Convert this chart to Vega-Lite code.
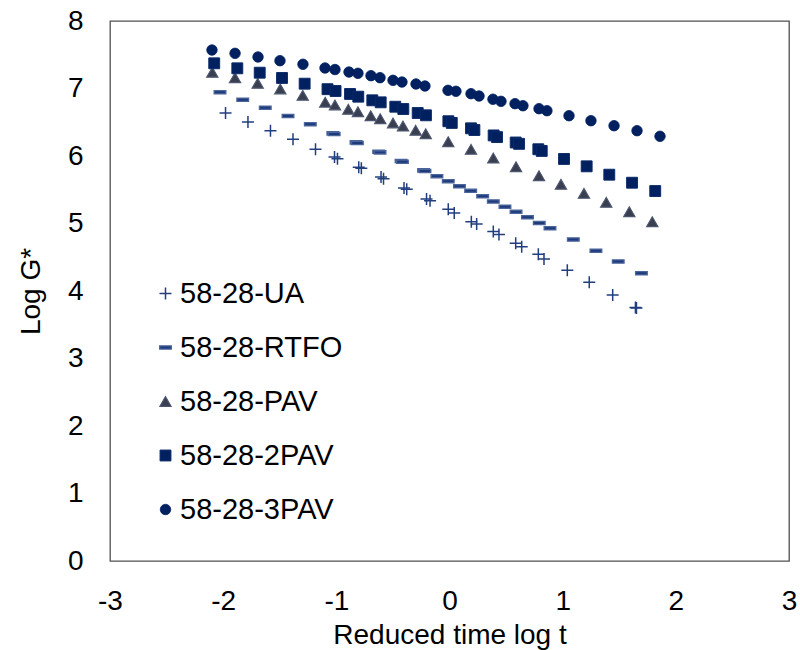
{
  "$schema": "https://vega.github.io/schema/vega-lite/v6.json",
  "autosize": {"type": "none"},
  "padding": {"left": 110, "top": 21, "right": 11, "bottom": 89},
  "width": 679,
  "height": 540,
  "background": "white",
  "config": {
    "font": "Liberation Sans",
    "view": {"stroke": "#505050", "strokeWidth": 1.3},
    "axis": {"grid": false, "domain": false, "ticks": false, "tickSize": 0, "labelFont": "Liberation Sans", "labelFontSize": 28, "labelColor": "#000000", "titleFont": "Liberation Sans", "titleFontSize": 28, "titleFontWeight": "normal", "titleColor": "#000000", "labelFlush": false, "labelOverlap": false, "labelBound": false},
    "legend": {"labelFont": "Liberation Sans", "labelFontSize": 29, "labelColor": "#000000", "symbolSize": 60, "rowPadding": 24, "labelOffset": 0, "padding": 0, "symbolStrokeWidth": 1.2, "labelLimit": 400}
  },
  "data": {"values": [
    {"s": "58-28-UA", "x": -1.979, "y": 6.637},
    {"s": "58-28-UA", "x": -1.781, "y": 6.504},
    {"s": "58-28-UA", "x": -1.582, "y": 6.375},
    {"s": "58-28-UA", "x": -1.383, "y": 6.247},
    {"s": "58-28-UA", "x": -1.184, "y": 6.099},
    {"s": "58-28-UA", "x": -1.016, "y": 5.985},
    {"s": "58-28-UA", "x": -0.99, "y": 5.96},
    {"s": "58-28-UA", "x": -0.802, "y": 5.833},
    {"s": "58-28-UA", "x": -0.779, "y": 5.818},
    {"s": "58-28-UA", "x": -0.605, "y": 5.689},
    {"s": "58-28-UA", "x": -0.583, "y": 5.664},
    {"s": "58-28-UA", "x": -0.402, "y": 5.526},
    {"s": "58-28-UA", "x": -0.378, "y": 5.507},
    {"s": "58-28-UA", "x": -0.203, "y": 5.363},
    {"s": "58-28-UA", "x": -0.172, "y": 5.338},
    {"s": "58-28-UA", "x": -0.011, "y": 5.21},
    {"s": "58-28-UA", "x": 0.042, "y": 5.156},
    {"s": "58-28-UA", "x": 0.193, "y": 5.027},
    {"s": "58-28-UA", "x": 0.24, "y": 4.993},
    {"s": "58-28-UA", "x": 0.387, "y": 4.881},
    {"s": "58-28-UA", "x": 0.437, "y": 4.837},
    {"s": "58-28-UA", "x": 0.585, "y": 4.707},
    {"s": "58-28-UA", "x": 0.638, "y": 4.656},
    {"s": "58-28-UA", "x": 0.785, "y": 4.544},
    {"s": "58-28-UA", "x": 0.835, "y": 4.474},
    {"s": "58-28-UA", "x": 1.041, "y": 4.307},
    {"s": "58-28-UA", "x": 1.235, "y": 4.129},
    {"s": "58-28-UA", "x": 1.442, "y": 3.941},
    {"s": "58-28-UA", "x": 1.643, "y": 3.756},
    {"s": "58-28-UA", "x": 1.652, "y": 3.748},
    {"s": "58-28-RTFO", "x": -2.028, "y": 6.944},
    {"s": "58-28-RTFO", "x": -1.827, "y": 6.834},
    {"s": "58-28-RTFO", "x": -1.628, "y": 6.716},
    {"s": "58-28-RTFO", "x": -1.427, "y": 6.593},
    {"s": "58-28-RTFO", "x": -1.23, "y": 6.47},
    {"s": "58-28-RTFO", "x": -1.031, "y": 6.335},
    {"s": "58-28-RTFO", "x": -1.019, "y": 6.325},
    {"s": "58-28-RTFO", "x": -0.826, "y": 6.202},
    {"s": "58-28-RTFO", "x": -0.814, "y": 6.192},
    {"s": "58-28-RTFO", "x": -0.626, "y": 6.064},
    {"s": "58-28-RTFO", "x": -0.614, "y": 6.054},
    {"s": "58-28-RTFO", "x": -0.428, "y": 5.926},
    {"s": "58-28-RTFO", "x": -0.416, "y": 5.916},
    {"s": "58-28-RTFO", "x": -0.229, "y": 5.787},
    {"s": "58-28-RTFO", "x": -0.217, "y": 5.777},
    {"s": "58-28-RTFO", "x": -0.111, "y": 5.701},
    {"s": "58-28-RTFO", "x": -0.011, "y": 5.627},
    {"s": "58-28-RTFO", "x": 0.088, "y": 5.551},
    {"s": "58-28-RTFO", "x": 0.187, "y": 5.484},
    {"s": "58-28-RTFO", "x": 0.293, "y": 5.403},
    {"s": "58-28-RTFO", "x": 0.387, "y": 5.326},
    {"s": "58-28-RTFO", "x": 0.49, "y": 5.249},
    {"s": "58-28-RTFO", "x": 0.588, "y": 5.173},
    {"s": "58-28-RTFO", "x": 0.689, "y": 5.092},
    {"s": "58-28-RTFO", "x": 0.793, "y": 5.007},
    {"s": "58-28-RTFO", "x": 0.888, "y": 4.929},
    {"s": "58-28-RTFO", "x": 1.094, "y": 4.763},
    {"s": "58-28-RTFO", "x": 1.294, "y": 4.597},
    {"s": "58-28-RTFO", "x": 1.491, "y": 4.437},
    {"s": "58-28-RTFO", "x": 1.696, "y": 4.262},
    {"s": "58-28-PAV", "x": -2.096, "y": 7.24},
    {"s": "58-28-PAV", "x": -1.895, "y": 7.16},
    {"s": "58-28-PAV", "x": -1.695, "y": 7.077},
    {"s": "58-28-PAV", "x": -1.495, "y": 6.993},
    {"s": "58-28-PAV", "x": -1.297, "y": 6.899},
    {"s": "58-28-PAV", "x": -1.098, "y": 6.797},
    {"s": "58-28-PAV", "x": -1.012, "y": 6.756},
    {"s": "58-28-PAV", "x": -0.894, "y": 6.692},
    {"s": "58-28-PAV", "x": -0.809, "y": 6.656},
    {"s": "58-28-PAV", "x": -0.696, "y": 6.597},
    {"s": "58-28-PAV", "x": -0.612, "y": 6.553},
    {"s": "58-28-PAV", "x": -0.499, "y": 6.489},
    {"s": "58-28-PAV", "x": -0.411, "y": 6.444},
    {"s": "58-28-PAV", "x": -0.299, "y": 6.381},
    {"s": "58-28-PAV", "x": -0.21, "y": 6.33},
    {"s": "58-28-PAV", "x": -0.011, "y": 6.212},
    {"s": "58-28-PAV", "x": 0.19, "y": 6.099},
    {"s": "58-28-PAV", "x": 0.387, "y": 5.97},
    {"s": "58-28-PAV", "x": 0.588, "y": 5.841},
    {"s": "58-28-PAV", "x": 0.791, "y": 5.708},
    {"s": "58-28-PAV", "x": 0.985, "y": 5.581},
    {"s": "58-28-PAV", "x": 1.188, "y": 5.447},
    {"s": "58-28-PAV", "x": 1.385, "y": 5.314},
    {"s": "58-28-PAV", "x": 1.589, "y": 5.175},
    {"s": "58-28-PAV", "x": 1.792, "y": 5.027},
    {"s": "58-28-2PAV", "x": -2.079, "y": 7.373},
    {"s": "58-28-2PAV", "x": -1.875, "y": 7.299},
    {"s": "58-28-2PAV", "x": -1.677, "y": 7.234},
    {"s": "58-28-2PAV", "x": -1.48, "y": 7.156},
    {"s": "58-28-2PAV", "x": -1.28, "y": 7.071},
    {"s": "58-28-2PAV", "x": -1.078, "y": 6.99},
    {"s": "58-28-2PAV", "x": -1.007, "y": 6.963},
    {"s": "58-28-2PAV", "x": -0.879, "y": 6.919},
    {"s": "58-28-2PAV", "x": -0.806, "y": 6.879},
    {"s": "58-28-2PAV", "x": -0.682, "y": 6.825},
    {"s": "58-28-2PAV", "x": -0.608, "y": 6.795},
    {"s": "58-28-2PAV", "x": -0.479, "y": 6.73},
    {"s": "58-28-2PAV", "x": -0.408, "y": 6.696},
    {"s": "58-28-2PAV", "x": -0.281, "y": 6.637},
    {"s": "58-28-2PAV", "x": -0.208, "y": 6.603},
    {"s": "58-28-2PAV", "x": -0.01, "y": 6.515},
    {"s": "58-28-2PAV", "x": 0.02, "y": 6.49},
    {"s": "58-28-2PAV", "x": 0.19, "y": 6.41},
    {"s": "58-28-2PAV", "x": 0.22, "y": 6.385},
    {"s": "58-28-2PAV", "x": 0.39, "y": 6.305},
    {"s": "58-28-2PAV", "x": 0.42, "y": 6.28},
    {"s": "58-28-2PAV", "x": 0.585, "y": 6.2},
    {"s": "58-28-2PAV", "x": 0.615, "y": 6.18},
    {"s": "58-28-2PAV", "x": 0.785, "y": 6.1},
    {"s": "58-28-2PAV", "x": 0.815, "y": 6.075},
    {"s": "58-28-2PAV", "x": 1.012, "y": 5.956},
    {"s": "58-28-2PAV", "x": 1.212, "y": 5.847},
    {"s": "58-28-2PAV", "x": 1.412, "y": 5.723},
    {"s": "58-28-2PAV", "x": 1.613, "y": 5.604},
    {"s": "58-28-2PAV", "x": 1.818, "y": 5.481},
    {"s": "58-28-3PAV", "x": -2.099, "y": 7.57},
    {"s": "58-28-3PAV", "x": -1.895, "y": 7.521},
    {"s": "58-28-3PAV", "x": -1.692, "y": 7.467},
    {"s": "58-28-3PAV", "x": -1.498, "y": 7.412},
    {"s": "58-28-3PAV", "x": -1.295, "y": 7.359},
    {"s": "58-28-3PAV", "x": -1.1, "y": 7.304},
    {"s": "58-28-3PAV", "x": -1.012, "y": 7.281},
    {"s": "58-28-3PAV", "x": -0.888, "y": 7.244},
    {"s": "58-28-3PAV", "x": -0.809, "y": 7.225},
    {"s": "58-28-3PAV", "x": -0.694, "y": 7.19},
    {"s": "58-28-3PAV", "x": -0.614, "y": 7.16},
    {"s": "58-28-3PAV", "x": -0.499, "y": 7.121},
    {"s": "58-28-3PAV", "x": -0.42, "y": 7.096},
    {"s": "58-28-3PAV", "x": -0.296, "y": 7.067},
    {"s": "58-28-3PAV", "x": -0.217, "y": 7.037},
    {"s": "58-28-3PAV", "x": -0.013, "y": 6.973},
    {"s": "58-28-3PAV", "x": 0.057, "y": 6.959},
    {"s": "58-28-3PAV", "x": 0.19, "y": 6.923},
    {"s": "58-28-3PAV", "x": 0.261, "y": 6.889},
    {"s": "58-28-3PAV", "x": 0.384, "y": 6.841},
    {"s": "58-28-3PAV", "x": 0.455, "y": 6.81},
    {"s": "58-28-3PAV", "x": 0.579, "y": 6.775},
    {"s": "58-28-3PAV", "x": 0.649, "y": 6.745},
    {"s": "58-28-3PAV", "x": 0.791, "y": 6.701},
    {"s": "58-28-3PAV", "x": 0.861, "y": 6.671},
    {"s": "58-28-3PAV", "x": 1.056, "y": 6.597},
    {"s": "58-28-3PAV", "x": 1.25, "y": 6.523},
    {"s": "58-28-3PAV", "x": 1.454, "y": 6.449},
    {"s": "58-28-3PAV", "x": 1.657, "y": 6.375},
    {"s": "58-28-3PAV", "x": 1.86, "y": 6.292}
  ]},
  "mark": {"type": "point", "filled": true, "opacity": 1},
  "encoding": {
    "x": {"field": "x", "type": "quantitative", "scale": {"domain": [-3, 3], "nice": false, "zero": false},
      "axis": {"title": "Reduced time log t", "values": [-3, -2, -1, 0, 1, 2, 3], "labelExpr": "'' + datum.value", "labelPadding": 26, "titleY": 82, "titleBaseline": "alphabetic"}},
    "y": {"field": "y", "type": "quantitative", "scale": {"domain": [0, 8], "nice": false, "zero": false},
      "axis": {"title": "Log G*", "values": [0, 1, 2, 3, 4, 5, 6, 7, 8], "labelPadding": 27, "titleX": -71, "titleBaseline": "alphabetic", "titleAngle": -90}},
    "color": {"field": "s", "type": "nominal",
      "legend": {"title": null, "orient": "none", "legendX": 41, "legendY": 258},
      "scale": {"domain": ["58-28-UA", "58-28-RTFO", "58-28-PAV", "58-28-2PAV", "58-28-3PAV"],
        "range": ["#213f7f", "#1e3a78", "#3a3f4f", "#002060", "#002060"]}},
    "shape": {"field": "s", "type": "nominal",
      "legend": {"title": null, "orient": "none", "legendX": 41, "legendY": 258},
      "scale": {"domain": ["58-28-UA", "58-28-RTFO", "58-28-PAV", "58-28-2PAV", "58-28-3PAV"],
        "range": ["M-1,0H1M0,-1V1", "M-1,-0.28H1V0.28H-1Z", "triangle-up", "square", "circle"]}},
    "stroke": {"field": "s", "type": "nominal", "legend": null,
      "scale": {"domain": ["58-28-UA", "58-28-RTFO", "58-28-PAV", "58-28-2PAV", "58-28-3PAV"],
        "range": ["#213f7f", "#4a649c", "#4c5670", "#0a2a68", "#002060"]}},
    "strokeWidth": {"field": "s", "type": "nominal", "legend": null,
      "scale": {"domain": ["58-28-UA", "58-28-RTFO", "58-28-PAV", "58-28-2PAV", "58-28-3PAV"],
        "range": [1.5, 0.8, 0.8, 0.8, 0.8]}},
    "size": {"field": "s", "type": "nominal", "legend": null,
      "scale": {"domain": ["58-28-UA", "58-28-RTFO", "58-28-PAV", "58-28-2PAV", "58-28-3PAV"],
        "range": [144, 110, 120, 110, 115]}}
  }
}
